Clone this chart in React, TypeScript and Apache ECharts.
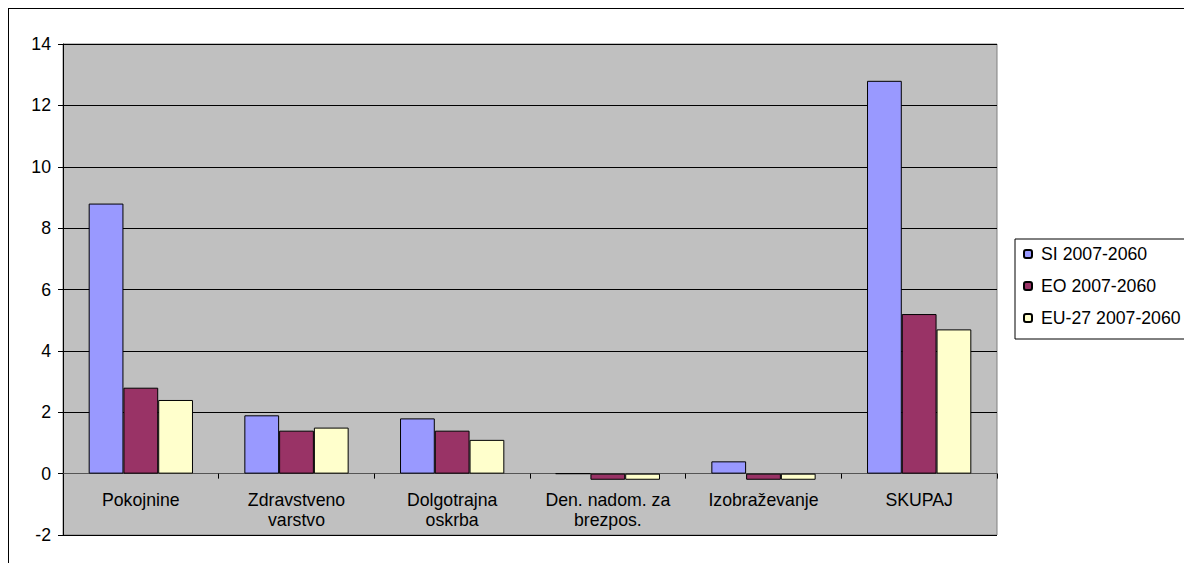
import React, { useEffect, useRef } from "react";
import * as echarts from "echarts";

const categories = [
  "Pokojnine",
  "Zdravstveno\nvarstvo",
  "Dolgotrajna\noskrba",
  "Den. nadom. za\nbrezpos.",
  "Izobraževanje",
  "SKUPAJ",
];
const seriesNames = ["SI 2007-2060", "EO 2007-2060", "EU-27 2007-2060"];
const siValues = [8.8, 1.9, 1.8, 0, 0.4, 12.8];
const eoValues = [2.8, 1.4, 1.4, -0.2, -0.2, 5.2];
const euValues = [2.4, 1.5, 1.1, -0.2, -0.2, 4.7];
const colors = ["#9999FF", "#993366", "#FFFFCC"];
const yMin = -2;
const yMax = 14;
const yStep = 2;

export default function App() {
  const ref = useRef<HTMLDivElement>(null);
  useEffect(() => {
    document.documentElement.style.overflow = "hidden";
    document.body.style.overflow = "hidden";
    document.body.style.marginRight = "0";
    if (!ref.current) return;
    const chart = echarts.init(ref.current, undefined, { renderer: "svg" });
    const font = "'Liberation Sans', Arial, sans-serif";
    const fs = 17.7;
    const data = [siValues, eoValues, euValues];
    chart.setOption({
      animation: false,
      textStyle: { fontFamily: font },
      grid: {
        left: 54,
        top: 35,
        right: 212,
        bottom: 34,
        outerBoundsMode: "none",
        containLabel: false,
        show: true,
        backgroundColor: "#C0C0C0",
        borderColor: "#808080",
        borderWidth: 1,
      },
      legend: {
        orient: "vertical",
        left: 1006,
        top: 230,
        itemWidth: 8,
        itemHeight: 8,
        itemGap: 14,
        padding: [6, 40, 12, 8],
        borderColor: "#000",
        borderWidth: 1,
        backgroundColor: "#fff",
        textStyle: { fontFamily: font, fontSize: fs, color: "#000", lineHeight: 17, padding: [0, 0, 0, 4] },
        data: seriesNames,
      },
      xAxis: {
        type: "category",
        data: categories,
        axisLine: { onZero: true, lineStyle: { color: "#555", width: 1 } },
        axisTick: { show: true, length: 5, lineStyle: { color: "#000" } },
        axisLabel: { fontFamily: font, fontSize: fs, color: "#000", margin: -45, lineHeight: 20, interval: 0 },
        splitLine: { show: false },
      },
      yAxis: {
        type: "value",
        min: yMin,
        max: yMax,
        interval: yStep,
        axisLine: { show: true, lineStyle: { color: "#000" } },
        axisTick: { show: true, length: 5, lineStyle: { color: "#000" } },
        axisLabel: { fontFamily: font, fontSize: fs, color: "#000", margin: 12 },
        splitLine: { show: true, lineStyle: { color: "#000", width: 1 } },
      },
      series: seriesNames.map((name, i) => ({
        name,
        type: "bar",
        data: data[i],
        barGap: "0%",
        barCategoryGap: "33%",
        itemStyle: { color: colors[i], borderColor: "#000", borderWidth: 1 },
      })),
    });
    return () => chart.dispose();
  }, []);
  return (
    <div
      ref={ref}
      style={{
        width: 1200,
        height: 560,
        borderLeft: "1px solid #000",
        borderTop: "1px solid #000",
      }}
    />
  );
}
